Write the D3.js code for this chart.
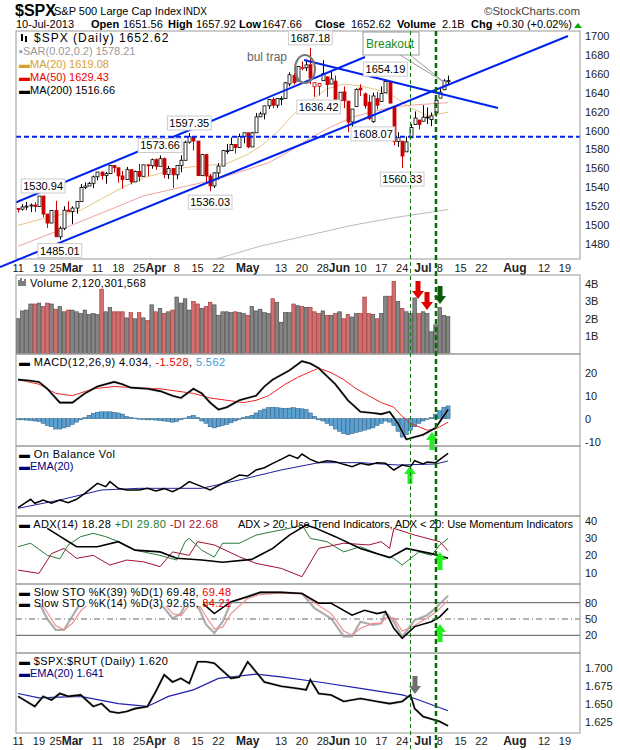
<!DOCTYPE html>
<html><head><meta charset="utf-8">
<script src="https://cdn.jsdelivr.net/npm/d3@7"></script>
<style>body{margin:0;background:#fff}text{font-family:"Liberation Sans",Arial,sans-serif}</style>
</head><body><svg id="c" width="620" height="750"></svg>
<script>
// price candles [open, high, low, close], one per trading day from 11-Feb-2013
const candles = [
[1517.9,1518.3,1513.6,1517.0],[1517.0,1522.3,1515.6,1519.4],[1519.4,1524.7,1515.9,1520.3],[1520.3,1523.1,1514.0,1521.4],[1521.4,1524.2,1514.1,1519.8],
[1519.8,1530.9,1519.8,1530.9],[1530.9,1530.9,1508.5,1511.9],[1511.9,1511.9,1497.3,1502.4],[1502.4,1515.6,1502.4,1515.6],[1515.6,1525.8,1487.9,1487.9],
[1487.9,1498.9,1485.0,1496.9],[1496.9,1520.1,1494.9,1516.0],[1516.0,1525.3,1514.5,1514.7],[1514.7,1520.0,1501.5,1518.2],[1518.2,1525.3,1512.3,1525.2],
[1525.2,1543.5,1525.2,1539.8],[1539.8,1545.3,1538.1,1541.5],[1541.5,1545.8,1541.5,1544.3],[1544.3,1552.5,1539.3,1551.2],[1551.2,1556.3,1547.4,1556.2],
[1556.2,1556.8,1548.2,1552.5],[1552.5,1556.4,1544.0,1554.5],[1554.5,1563.3,1554.5,1563.2],[1563.2,1563.6,1555.7,1560.7],[1560.7,1560.7,1545.1,1552.1],
[1552.1,1557.3,1538.6,1548.3],[1548.3,1561.6,1548.3,1558.7],[1558.7,1558.7,1543.1,1545.8],[1545.8,1557.7,1545.8,1556.9],[1556.9,1564.9,1546.2,1551.7],
[1551.7,1563.9,1551.7,1563.8],[1563.8,1564.1,1551.9,1562.9],[1562.9,1570.3,1559.7,1569.2],[1569.2,1570.6,1558.5,1562.2],[1562.2,1573.7,1562.2,1570.3],
[1570.3,1571.5,1549.8,1553.7],[1553.7,1562.6,1549.0,1560.0],[1560.0,1560.0,1539.5,1553.3],[1553.3,1563.1,1548.6,1563.1],[1563.1,1573.9,1556.0,1568.6],
[1568.6,1589.1,1568.6,1587.7],[1587.7,1597.35,1586.2,1593.4],[1593.4,1593.4,1579.0,1588.9],[1588.9,1588.9,1552.3,1552.4],[1552.4,1575.4,1552.4,1574.6],
[1574.6,1574.6,1543.7,1552.0],[1552.0,1554.4,1536.03,1541.6],[1541.6,1555.9,1539.4,1555.3],[1555.3,1565.6,1548.2,1562.5],[1562.5,1579.6,1562.5,1578.8],
[1578.8,1585.8,1575.2,1578.8],[1578.8,1592.6,1578.8,1585.2],[1585.2,1585.8,1575.7,1582.2],[1582.2,1596.7,1582.2,1593.6],[1593.6,1597.6,1586.5,1597.6],
[1597.6,1597.6,1581.3,1582.7],[1582.7,1598.6,1582.7,1597.6],[1597.6,1618.5,1597.6,1614.4],[1614.4,1619.8,1614.2,1617.5],[1617.5,1626.0,1611.8,1626.0],
[1626.0,1632.8,1622.7,1632.7],[1632.7,1635.0,1623.6,1626.7],[1626.7,1633.7,1623.7,1633.7],[1633.7,1636.0,1626.7,1633.8],[1633.8,1651.1,1633.8,1650.3],
[1649.1,1661.5,1646.7,1658.8],[1658.1,1660.5,1648.6,1650.5],[1652.1,1667.5,1652.1,1667.5],[1665.7,1672.8,1663.5,1666.3],[1666.2,1674.9,1662.7,1669.2],
[1669.4,1687.18,1648.9,1655.4],[1646.1,1650.5,1635.5,1650.5],[1646.7,1649.8,1636.9,1649.6],[1652.6,1674.2,1652.6,1660.1],[1656.6,1656.6,1635.5,1648.4],
[1649.1,1662.6,1648.9,1654.4],[1652.1,1658.1,1630.7,1631.0],[1631.7,1640.4,1622.7,1640.4],[1640.7,1646.5,1623.6,1631.4],[1631.0,1631.0,1598.2,1608.9],
[1609.0,1622.6,1598.2,1622.6],[1625.3,1644.4,1625.3,1643.4],[1644.7,1648.7,1636.3,1642.8],[1638.6,1640.1,1622.9,1626.1],[1629.9,1637.7,1610.9,1612.5],
[1609.4,1640.0,1608.07,1636.4],[1633.6,1640.8,1622.3,1626.7],[1630.6,1646.5,1630.3,1639.0],[1639.8,1654.19,1639.8,1651.8],[1651.8,1652.5,1628.9,1628.9],
[1624.6,1624.6,1584.3,1588.2],[1588.6,1598.2,1582.8,1592.4],[1588.8,1588.8,1560.33,1573.1],[1577.5,1593.8,1577.5,1588.0],[1592.3,1606.8,1592.3,1603.3],
[1606.4,1620.1,1606.4,1613.2],[1611.1,1611.1,1601.1,1606.3],[1609.8,1626.6,1609.8,1614.1],[1614.3,1624.3,1606.8,1614.1],[1611.5,1619.0,1604.6,1615.4],
[1618.7,1632.1,1614.7,1631.9],[1634.2,1644.7,1634.2,1640.5],[1642.9,1654.2,1642.9,1652.3],[1651.56,1657.92,1647.66,1652.62]];

// volume, billions of shares
const volume = [2.0,2.45,2.5,2.85,2.85,2.9,2.7,2.9,2.85,2.55, 2.7,2.4,2.5,2.5,2.4,2.3,2.5,2.25,2.3,2.25,
 3.7,2.4,2.65,2.4,2.4,2.4,2.05,2.35,2.0,2.35, 2.05,1.9,2.8,2.4,2.6,2.3,2.4,2.5,3.25,2.9,
 3.15,2.5,3.0,2.85,2.6,2.7,2.95,2.8,2.2,2.4, 2.4,2.35,2.4,2.35,2.3,2.2,2.7,2.45,2.55,2.35,
 2.3,3.15,2.95,1.8,2.35,2.35,2.85,2.75,2.7,2.65, 2.65,2.4,2.3,2.45,2.2,2.2,2.3,2.4,2.0,2.25,
 2.1,2.3,2.3,3.25,2.3,2.25,2.0,2.3,3.3,3.3, 4.15,3.0,2.6,2.4,2.3,3.2,2.3,2.4,2.3,1.25, 1.65,2.65,2.2,2.12];

// moving averages, [day index, value]
const ma20 = [[0,1500],[5,1506],[10,1511],[15,1516],[20,1528],[25,1540],[30,1550],[35,1556],[40,1561],[45,1563],[50,1565],[55,1575],[58,1583],[62,1598],[66,1617],[70,1631],[74,1644],[78,1649],[82,1647],[86,1643],[90,1636],[94,1624],[98,1616],[103,1619.08]];
const ma50 = [[0,1478],[10,1495],[20,1513],[30,1531],[40,1541],[45,1546],[50,1552],[55,1559],[60,1566],[65,1578],[70,1592],[75,1604],[80,1614],[85,1620],[90,1625],[95,1627],[103,1629.43]];
const ma200 = [[0,1420],[20,1437],[40,1455],[58,1478],[70,1490],[80,1500],[90,1508],[103,1516.66]];

const macd = [[0,17],[3,16.5],[5,16],[7,13],[10,7],[13,7],[16,11],[19,14],[23,16],[25,15],[27,13.5],[31,13],[34,12],[37,10],[39,9],[42,13],[44,11],[46,7],[48,4],[50,5],[53,8],[57,10],[59,14],[61,17],[65,21],[68,25],[70,24],[72,22],[76,15],[79,8],[82,3],[85,2.5],[87,2],[89,3],[91,-2],[93,-9],[95,-8],[97,-7],[100,-4],[103,4.03]];
const signal = [[0,17],[5,15],[9,11],[13,10],[18,13],[23,14],[28,13.5],[34,13],[38,12],[42,11],[46,9],[50,8],[54,7],[57,8],[60,10],[64,15],[67,18],[72,22],[75,20],[78,17],[81,13],[84,10],[87,7],[90,5],[92,1],[94,-2],[98,-5],[100,-4.5],[103,-1.53]];
const hist = [-0.5,-0.5,-0.6,-0.8,-1.0,-1.2,-2.0,-3.0,-3.5,-4.5, -4.5,-4.0,-3.5,-2.5,-1.5,-0.5,0.5,1.5,2.3,2.8,
 3.0,3.0,3.0,2.8,2.5,2.0,1.0,0.5,0.3,0, -0.3,-0.5,-0.5,-0.6,-0.8,-1.0,-1.2,-1.5,-1.2,-0.5,
 0.3,1.0,1.5,0.5,-1.0,-2.0,-3.5,-4.0,-3.5,-3.0, -2.5,-1.8,-1.0,-0.3,0.5,1.0,1.5,2.5,3.5,4.2,
 4.8,5.0,4.8,4.6,4.5,4.6,4.8,4.5,4.3,4.0, 2.5,1.0,-0.5,-1.0,-2.0,-3.0,-4.5,-5.5,-6.5,-7.0,
 -6.5,-6.0,-5.5,-5.0,-4.5,-4.0,-3.0,-2.0,-1.0,-1.5, -3.0,-5.5,-8.0,-7.0,-5.0,-3.5,-2.0,-1.0,-0.3,0.5, 2.0,3.5,5.0,5.56];

const obv = [[0,0.5],[3,3],[4,1.8],[6,2.8],[8,1.8],[10,2.8],[12,2],[14,3],[16,4.8],[19,7.8],[21,6.8],[22,8.3],[24,6.3],[26,5.8],[29,5.8],[31,6.3],[33,5.5],[35,6.2],[37,5.3],[39,6.5],[41,8.3],[44,6.8],[46,5.8],[49,7.8],[51,9],[53,10.3],[55,10],[57,11.8],[59,12.5],[61,13.8],[63,15],[65,16.3],[67,15.3],[68,16.6],[70,15],[72,14],[74,14.6],[76,14.3],[78,13.5],[80,12.8],[82,13.8],[84,13.3],[86,14],[88,13.8],[90,11.8],[92,13.3],[94,12.8],[95,14.6],[97,13.6],[98,14.2],[100,14],[103,16.8]];
const obvEma = [[0,0.3],[10,2.8],[20,5.8],[29,6.3],[44,6.3],[53,8.8],[63,11.8],[72,14],[82,14],[91,13.3],[100,13.6],[103,14.5]];

const adx = [[7,35.6],[14,25],[19,25],[24,27.9],[28,23],[34,22],[38,18.3],[44,17.3],[49,16],[56,17.7],[61,24],[65,31.7],[69,37.5],[71,36],[76,30.8],[82,24],[89,18.7],[93,24],[99,21],[103,18.28]];
const plusDI = [[0,25],[3,27],[7,20],[10,18],[12,26],[15,30.8],[18,32.7],[21,30.8],[24,28],[28,23],[34,20],[38,17.3],[40,27.9],[41,29.8],[44,23],[47,19],[49,27],[53,27],[57,31.7],[61,33.7],[65,35.6],[68,37.5],[70,29.8],[74,27.9],[78,22],[82,25],[86,21],[90,18.3],[92,14.4],[96,22],[99,20],[101,26],[103,29.8]];
const minusDI = [[0,11.5],[5,9.6],[8,21],[11,24],[14,18.3],[18,20],[22,14.4],[26,17.3],[30,16.3],[34,13.5],[37,22],[41,20],[43,27.9],[47,26],[53,19.2],[57,15.4],[63,12.5],[68,7.7],[72,24],[78,27],[84,26],[87,27.9],[89,24],[90,35.6],[95,31.7],[101,27.9],[103,22.68]];

const sto39 = [[0,90],[5,92],[9,78],[13,80],[18,92],[25,95],[35,90],[40,95],[44,80.5],[47,60],[51,82],[55,91],[58,99],[63,99],[68,97],[72,79],[75,79],[80,57],[83,66],[86,60],[88,63.5],[90,33],[92,14.5],[95,36],[99,45],[101,54],[103,69.48]];
const sto14 = [[0,85],[3,88],[5,80],[7,50],[9,30],[11,30],[13,55],[15,80],[18,90],[22,92],[25,85],[27,75],[29,82],[32,90],[35,70],[37,51],[39,60],[41,92],[43,75],[45,40],[47,24],[49,45],[51,80],[55,92],[58,99],[63,99],[68,97],[71,70],[75,51],[78,18],[80,18],[82,45],[85,39],[87,42],[88,63],[90,45],[92,17],[95,48],[98,57],[100,70],[103,92.65]];
const sto14d = [[0,85],[3,86],[5,84],[7,62],[9,38],[11,30],[13,42],[15,65],[18,85],[22,90],[25,87],[27,80],[29,80],[32,86],[35,78],[37,60],[39,56],[41,75],[43,80],[45,55],[47,32],[49,35],[51,60],[55,88],[58,95],[63,98],[68,97],[71,80],[75,60],[78,28],[80,20],[82,33],[85,42],[87,42],[88,52],[90,52],[92,28],[95,38],[98,52],[100,62],[103,84.21]];

const ratio = [[0,1.661],[2,1.654],[4,1.647],[6,1.661],[8,1.656],[10,1.665],[12,1.661],[15,1.663],[18,1.647],[20,1.651],[22,1.640],[24,1.638],[26,1.640],[28,1.644],[31,1.647],[33,1.668],[35,1.691],[37,1.681],[39,1.686],[41,1.679],[43,1.709],[45,1.709],[47,1.707],[51,1.686],[53,1.688],[55,1.709],[59,1.681],[63,1.675],[67,1.672],[69,1.670],[70,1.684],[72,1.665],[75,1.663],[78,1.654],[82,1.658],[86,1.654],[89,1.651],[92,1.654],[94,1.663],[95,1.644],[97,1.633],[100,1.628],[101,1.626],[103,1.620]];
const ratioEma = [[0,1.665],[5,1.659],[15,1.661],[24,1.651],[31,1.647],[36,1.661],[42,1.670],[48,1.686],[57,1.692],[63,1.688],[72,1.681],[82,1.672],[92,1.663],[95,1.658],[103,1.641]];

// date axis labels [day index, text, month?]
const dateTicks = [[0,"11"],[5,"19"],[9,"25"],[13,"Mar",1],[19,"11"],[24,"18"],[29,"25"],[33,"Apr",1],[38,"8"],[43,"15"],[48,"22"],[55,"May",1],[63,"13"],[68,"20"],[73,"28"],[77,"Jun",1],[82,"10"],[87,"17"],[92,"24"],[97,"Jul",1],[101,"8"],[106,"15"],[111,"22"],[119,"Aug",1],[126,"12"],[131,"19"]];
const priceTicks = d3.range(1480, 1701, 20);
const priceNotes = [[70,1687.18,"above"],[88,1654.19,"above"],[72,1636.42,"below"],[41,1597.35,"above"],[34,1573.66,"above"],[85,1608.07,"below"],[92,1560.33,"below"],[46,1536.03,"below"],[6,1530.94,"above"],[10,1485.01,"below"]];
// quote line: [x, text, bold]
const quote = [[91,'Open',1],[123,'1651.56'],[168,'High',1],[196,'1657.92'],[239,'Low',1],[262,'1647.66'],[315,'Close',1],[351,'1652.62'],[397,'Volume',1],[442,'2.1B'],[471,'Chg',1],[496,'+0.30 (+0.02%)']];

const svg = d3.select('#c');
const L = 16, R = 580;
const x = d3.scaleLinear().domain([-0.5, 134.6]).range([L, R]);

const panel = (y0, y1) => {
    const id = 'cp' + y0;
    svg.append('clipPath').attr('id', id).append('rect').attr('x', L).attr('y', y0).attr('width', R - L).attr('height', y1 - y0);
    const g = svg.append('g').attr('clip-path', `url(#${id})`);
    svg.append('rect').attr('x', L).attr('y', y0).attr('width', R - L).attr('height', y1 - y0)
        .attr('fill', 'none').attr('stroke', '#999');
    return g;
};
const rightAxis = (y, ticks, fmt) => {
    ticks.forEach(t => svg.append('text').attr('x', 585).attr('y', y(t) + 4).attr('font-size', 11).attr('fill', '#222').text(fmt(t)));
};
const line = (g, data, y, color, w, op) => g.append('path').datum(data)
    .attr('d', d3.line().x(d => x(d[0])).y(d => y(d[1]))).attr('fill', 'none')
    .attr('stroke', color).attr('stroke-width', w).attr('opacity', op || 1);
const legend = (items, x0, y0) => {
    const t = svg.append('text').attr('x', x0).attr('y', y0).attr('font-size', 11.5);
    items.forEach(([s, c, b]) => t.append('tspan').attr('fill', c).attr('font-weight', b ? 'bold' : null).text(s));
    return t;
};
const arrow = (cx, tipY, dir, color) => {
    // dir 1 = pointing up, -1 = pointing down
    const h = 18, w = 12, s = 5;
    const b = tipY + dir * h, m = tipY + dir * 8;
    svg.append('path').attr('fill', color)
        .attr('d', `M${cx},${tipY}L${cx + w / 2},${m}L${cx + s / 2},${m}L${cx + s / 2},${b}L${cx - s / 2},${b}L${cx - s / 2},${m}L${cx - w / 2},${m}Z`);
};

// header
svg.append('text').attr('x', 15).attr('y', 16).attr('font-size', 16).attr('font-weight', 'bold').text('$SPX');
svg.append('text').attr('x', 54).attr('y', 15).attr('font-size', 11).text('S&P 500 Large Cap Index');
svg.append('text').attr('x', 183).attr('y', 15).attr('font-size', 10).text('INDX');
svg.append('text').attr('x', 580).attr('y', 15).attr('font-size', 11.5).attr('text-anchor', 'end').attr('fill', '#444').text('©StockCharts.com');
svg.append('text').attr('x', 16).attr('y', 28).attr('font-size', 11).text('10-Jul-2013');
quote.forEach(([qx, s, b]) => svg.append('text').attr('x', qx).attr('y', 28).attr('font-size', 11)
    .attr('font-weight', b ? 'bold' : null).text(s));
svg.append('path').attr('d', 'M574,28L578,23L582,28Z').attr('fill', '#0a0');

// price panel
const yP = d3.scaleLinear().domain([1480, 1700]).range([244.3, 35.7]);
const gP = panel(31, 259);
line(gP, ma200, yP, '#bbb', 1);
line(gP, ma50, yP, '#f0a0a0', 1);
line(gP, ma20, yP, '#e6c48a', 1);
const cw = 3;
candles.forEach((c, i) => {
    const [o, h, l, cl] = c;
    const prev = i ? candles[i - 1][3] : o;
    const col = cl < prev ? '#cc0000' : '#000';
    const cx = Math.round(x(i)) + 0.5;
    gP.append('line').attr('x1', cx).attr('x2', cx).attr('y1', yP(h)).attr('y2', yP(l)).attr('stroke', col);
    const top = yP(Math.max(o, cl)), bot = yP(Math.min(o, cl));
    gP.append('rect').attr('x', cx - cw / 2).attr('y', top).attr('width', cw).attr('height', Math.max(1, bot - top))
        .attr('fill', cl < o ? col : '#fff').attr('stroke', col).attr('stroke-width', 0.8);
});
// trend lines
const blue = '#0022ee';
gP.append('line').attr('x1', 0).attr('y1', 209).attr('x2', 365).attr('y2', 57).attr('stroke', blue).attr('stroke-width', 2);
svg.append('line').attr('x1', 0).attr('y1', 267).attr('x2', 568).attr('y2', 36).attr('stroke', blue).attr('stroke-width', 2);
gP.append('line').attr('x1', 304).attr('y1', 60).attr('x2', 498).attr('y2', 108).attr('stroke', blue).attr('stroke-width', 2);
gP.append('line').attr('x1', L).attr('x2', R).attr('y1', yP(1593.5)).attr('y2', yP(1593.5)).attr('stroke', blue).attr('stroke-width', 2).attr('stroke-dasharray', '5,3');
// price notes
priceNotes.forEach(([i, v, pos]) => {
    const ty = pos === 'above' ? yP(v) - 6 : yP(v) + 15;
    const cx = x(i);
    const t = svg.append('text').attr('x', cx).attr('y', ty).attr('font-size', 11).attr('text-anchor', 'middle').text(v.toFixed(2));
    const bb = t.node().getBBox();
    svg.insert('rect', 'text:last-child').attr('x', bb.x - 2).attr('y', bb.y - 1).attr('width', bb.width + 4).attr('height', bb.height + 2)
        .attr('fill', '#fff').attr('stroke', '#ccc');
    svg.node().appendChild(t.node());
});
svg.append('ellipse').attr('cx', 305).attr('cy', 69).attr('rx', 10).attr('ry', 14).attr('fill', 'none').attr('stroke', '#777').attr('stroke-width', 2);
svg.append('text').attr('x', 247).attr('y', 61).attr('font-size', 12).attr('fill', '#666').text('bul trap');
svg.append('path').attr('d', 'M400,55L444,82L410,55').attr('fill', 'none').attr('stroke', '#999');
svg.append('rect').attr('x', 363).attr('y', 32).attr('width', 56).attr('height', 23).attr('fill', '#fff').attr('stroke', '#999');
svg.append('text').attr('x', 366).attr('y', 48).attr('font-size', 12).attr('fill', '#1a8a1a').text('Breakout');
rightAxis(yP, priceTicks, d => d);
legend([['$SPX (Daily) 1652.62', '#000']], 34, 42).attr('font-size', 12).attr('letter-spacing', 1);
svg.append('rect').attr('x', 21).attr('y', 34).attr('width', 2).attr('height', 7);
svg.append('rect').attr('x', 25).attr('y', 36).attr('width', 2).attr('height', 6);
legend([['▪SAR(0.02,0.2) 1578.21', '#999']], 19, 55).attr('font-size', 11);
legend([['▬', '#d9a030'], ['MA(20) 1619.08', '#d9a030']], 19, 68).attr('font-size', 11);
legend([['▬', '#e00'], ['MA(50) 1629.43', '#e00']], 19, 81).attr('font-size', 11);
legend([['▬', '#000'], ['MA(200) 1516.66', '#000']], 19, 94).attr('font-size', 11);

// date labels
const dateAxis = yy => dateTicks.forEach(([i, s, m]) => svg.append('text').attr('x', x(i)).attr('y', yy)
    .attr('text-anchor', 'middle').attr('font-size', m ? 12 : 11).attr('font-weight', m ? 'bold' : null).attr('fill', '#222').text(s));
dateAxis(272);

// volume
const yV = d3.scaleLinear().domain([0, 4]).range([353.5, 284]);
const gV = panel(275, 354);
volume.forEach((v, i) => {
    const dn = i && candles[i][3] < candles[i - 1][3];
    gV.append('rect').attr('x', x(i) - 1.8).attr('y', yV(v)).attr('width', 3.6).attr('height', yV(0) - yV(v))
        .attr('fill', dn ? '#d07070' : '#858585').attr('stroke', dn ? '#a03030' : '#444').attr('stroke-width', 0.6);
});
rightAxis(yV, [1, 2, 3, 4], d => d + 'B');
legend([['Volume 2,120,301,568', '#000']], 30, 287).attr('font-size', 11).attr('letter-spacing', 0.3);
svg.append('path').attr('d', 'M19,286V280M21,286V278M23,286V281M25,286V279').attr('stroke', '#555').attr('stroke-width', 1.5);
arrow(418, 299, -1, '#e00000');
arrow(427, 310, -1, '#e00000');
arrow(440, 304, -1, '#0a5a0a');

// MACD
const yM = d3.scaleLinear().domain([-10, 20]).range([441.7, 372.7]);
const gM = panel(354, 446);
hist.forEach((v, i) => gM.append('rect').attr('x', x(i) - 2).attr('width', 4)
    .attr('y', Math.min(yM(v), yM(0))).attr('height', Math.max(0.5, Math.abs(yM(v) - yM(0))))
    .attr('fill', '#5aa0d0').attr('stroke', '#2a5a80').attr('stroke-width', 0.5));
line(gM, signal, yM, '#f02020', 1);
line(gM, macd, yM, '#aaa', 2.6, 0.6);
line(gM, macd, yM, '#000', 1.6);
rightAxis(yM, [-10, 0, 10, 20], d => d);
legend([['▬ MACD(12,26,9) 4.034, ', '#000'], ['-1.528', '#e00'], [', ', '#000'], ['5.562', '#3a9ad0']], 19, 366).attr('font-size', 11).attr('letter-spacing', 0.4);
arrow(432, 432, 1, '#22ee22');

// OBV
const yO = d3.scaleLinear().domain([0, 20]).range([509.3, 442.7]);
const gO = panel(446, 516);
line(gO, obvEma, yO, '#2020a0', 1);
line(gO, obv, yO, '#000', 1.5);
legend([['▬ On Balance Vol', '#000']], 19, 458).attr('font-size', 11).attr('letter-spacing', 0.4);
legend([['▬', '#000080'], ['EMA(20)', '#000080']], 19, 470).attr('font-size', 11);
arrow(410, 466, 1, '#22ee22');

// ADX
const yA = d3.scaleLinear().domain([10, 40]).range([572.7, 520.7]);
const gA = panel(516, 584);
line(gA, plusDI, yA, '#2a7a3a', 1);
line(gA, minusDI, yA, '#a01030', 1);
line(gA, adx, yA, '#000', 1.6);
rightAxis(yA, [10, 20, 30, 40], d => d);
legend([['▬ ADX(14) 18.28 ', '#000'], ['+DI 29.80 ', '#1a7a2a'], ['-DI 22.68', '#a01030']], 19, 528).attr('font-size', 11).attr('letter-spacing', 0.4);
svg.append('text').attr('x', 238).attr('y', 528).attr('font-size', 11).attr('textLength', 335).text('ADX > 20: Use Trend Indicators, ADX < 20: Use Momentum Indicators');
arrow(440, 552, 1, '#22ee22');

// Slow stochastics
const yS = d3.scaleLinear().domain([20, 80]).range([635.3, 602.7]);
const gS = panel(584, 653);
[20, 80].forEach(v => gS.append('line').attr('x1', L).attr('x2', R).attr('y1', yS(v)).attr('y2', yS(v)).attr('stroke', '#555'));
gS.append('line').attr('x1', L).attr('x2', R).attr('y1', yS(50)).attr('y2', yS(50)).attr('stroke', '#666').attr('stroke-dasharray', '6,3,1,3');
line(gS, sto14, yS, '#999', 2.2, 0.8);
line(gS, sto14d, yS, '#f09090', 1.2);
line(gS, sto39, yS, '#000', 1.6);
svg.append('rect').attr('x', 17).attr('y', 585).attr('width', 186).attr('height', 21).attr('fill', '#fff');
legend([['▬ Slow STO %K(39) %D(1) 69.48, ', '#000'], ['69.48', '#e00']], 19, 596).attr('font-size', 11).attr('letter-spacing', 0.3);
legend([['▬ Slow STO %K(14) %D(3) 92.65, ', '#000'], ['84.21', '#e00']], 19, 607).attr('font-size', 11).attr('letter-spacing', 0.3);
rightAxis(yS, [20, 50, 80], d => d);
arrow(440, 624, 1, '#22ee22');

// SPX:RUT ratio
const yR = d3.scaleLinear().domain([1.625, 1.700]).range([722.3, 668.3]);
const gR = panel(653, 733);
line(gR, ratioEma, yR, '#2020b0', 1.2);
line(gR, ratio, yR, '#aaa', 2.6, 0.6);
line(gR, ratio, yR, '#000', 1.6);
rightAxis(yR, [1.625, 1.65, 1.675, 1.7], d => d.toFixed(3));
legend([['▬ $SPX:$RUT (Daily) 1.620', '#000']], 19, 665).attr('font-size', 11).attr('letter-spacing', 0.4);
legend([['▬', '#000080'], ['EMA(20) 1.641', '#000080']], 19, 677).attr('font-size', 11);
arrow(415, 694, -1, '#707070');

// vertical dashed markers
svg.append('line').attr('x1', x(94)).attr('x2', x(94)).attr('y1', 31).attr('y2', 750).attr('stroke', '#0a7a0a').attr('stroke-dasharray', '4,3');
svg.append('line').attr('x1', x(100.1)).attr('x2', x(100.1)).attr('y1', 31).attr('y2', 750).attr('stroke', '#0a6a0a').attr('stroke-width', 2.5).attr('stroke-dasharray', '5,3');

dateAxis(745);
</script></body></html>
